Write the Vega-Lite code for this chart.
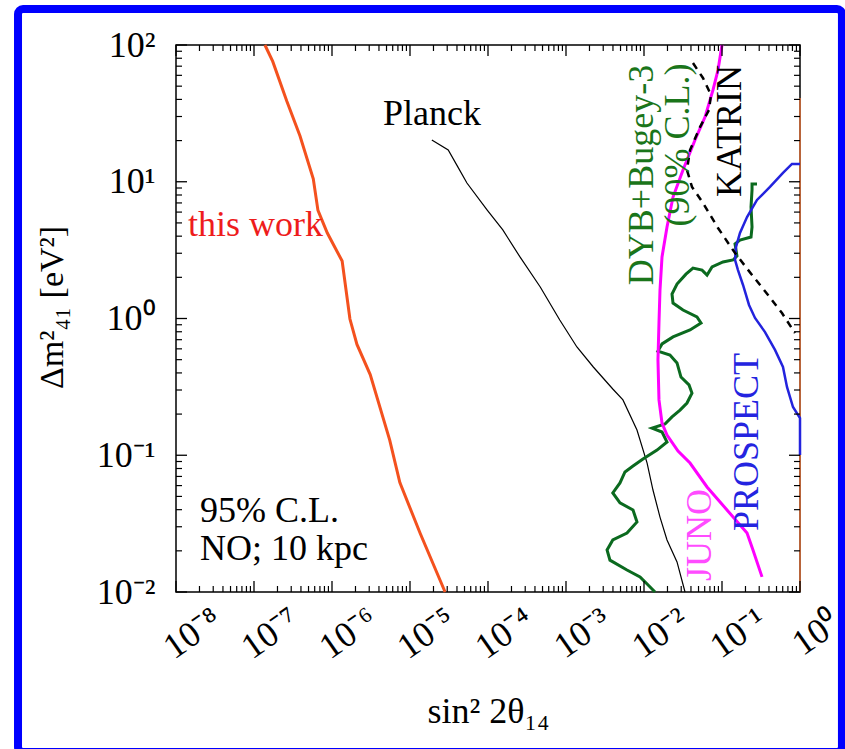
{
  "$schema": "https://vega.github.io/schema/vega-lite/v6.json",
  "width": 624,
  "height": 547,
  "autosize": {"type": "none"},
  "padding": {"left": 176, "top": 45, "right": 45, "bottom": 157},
  "background": "white",
  "datasets": {
    "curves": [
      {"s": "red", "i": 0, "x": 1.38e-7, "y": 100},
      {"s": "red", "i": 1, "x": 1.738e-7, "y": 75.9},
      {"s": "red", "i": 2, "x": 2.63e-7, "y": 38.9},
      {"s": "red", "i": 3, "x": 3.89e-7, "y": 21.6},
      {"s": "red", "i": 4, "x": 5.754e-7, "y": 10.5},
      {"s": "red", "i": 5, "x": 6.607e-7, "y": 6.17},
      {"s": "red", "i": 6, "x": 8.71e-7, "y": 4.22},
      {"s": "red", "i": 7, "x": 1.349e-6, "y": 2.63},
      {"s": "red", "i": 8, "x": 1.698e-6, "y": 0.991},
      {"s": "red", "i": 9, "x": 2.089e-6, "y": 0.646},
      {"s": "red", "i": 10, "x": 3.09e-6, "y": 0.389},
      {"s": "red", "i": 11, "x": 5.495e-6, "y": 0.129},
      {"s": "red", "i": 12, "x": 7.413e-6, "y": 0.0631},
      {"s": "red", "i": 13, "x": 1.349e-5, "y": 0.0269},
      {"s": "red", "i": 14, "x": 2.818e-5, "y": 0.01},

      {"s": "planck", "i": 0, "x": 1.905e-5, "y": 20.2},
      {"s": "planck", "i": 1, "x": 3.09e-5, "y": 17.06},
      {"s": "planck", "i": 2, "x": 4.12e-5, "y": 12.8},
      {"s": "planck", "i": 3, "x": 5.37e-5, "y": 9.79},
      {"s": "planck", "i": 4, "x": 9.772e-5, "y": 6.21},
      {"s": "planck", "i": 5, "x": 1.549e-4, "y": 4.44},
      {"s": "planck", "i": 6, "x": 2.57e-4, "y": 2.82},
      {"s": "planck", "i": 7, "x": 4.677e-4, "y": 1.7},
      {"s": "planck", "i": 8, "x": 8.318e-4, "y": 0.975},
      {"s": "planck", "i": 9, "x": 1.38e-3, "y": 0.619},
      {"s": "planck", "i": 10, "x": 2.239e-3, "y": 0.442},
      {"s": "planck", "i": 11, "x": 3.981e-3, "y": 0.305},
      {"s": "planck", "i": 12, "x": 5.37e-3, "y": 0.254},
      {"s": "planck", "i": 13, "x": 8.128e-3, "y": 0.153},
      {"s": "planck", "i": 14, "x": 1.096e-2, "y": 0.0877},
      {"s": "planck", "i": 15, "x": 1.303e-2, "y": 0.0557},
      {"s": "planck", "i": 16, "x": 1.603e-2, "y": 0.0353},
      {"s": "planck", "i": 17, "x": 1.972e-2, "y": 0.024},
      {"s": "planck", "i": 18, "x": 2.65e-2, "y": 0.0166},
      {"s": "planck", "i": 19, "x": 3.357e-2, "y": 0.01},

      {"s": "juno", "i": 0, "x": 0.1, "y": 100},
      {"s": "juno", "i": 1, "x": 0.0889, "y": 65.6},
      {"s": "juno", "i": 2, "x": 0.0767, "y": 46.9},
      {"s": "juno", "i": 3, "x": 0.06053, "y": 29.7},
      {"s": "juno", "i": 4, "x": 0.04508, "y": 20.2},
      {"s": "juno", "i": 5, "x": 0.03162, "y": 12.2},
      {"s": "juno", "i": 6, "x": 0.02355, "y": 7.73},
      {"s": "juno", "i": 7, "x": 0.01972, "y": 4.67},
      {"s": "juno", "i": 8, "x": 0.01702, "y": 2.82},
      {"s": "juno", "i": 9, "x": 0.01603, "y": 1.61},
      {"s": "juno", "i": 10, "x": 0.01556, "y": 0.927},
      {"s": "juno", "i": 11, "x": 0.0151, "y": 0.498},
      {"s": "juno", "i": 12, "x": 0.01556, "y": 0.254},
      {"s": "juno", "i": 13, "x": 0.01702, "y": 0.172},
      {"s": "juno", "i": 14, "x": 0.01972, "y": 0.1406},
      {"s": "juno", "i": 15, "x": 0.02729, "y": 0.1074},
      {"s": "juno", "i": 16, "x": 0.0389, "y": 0.0877},
      {"s": "juno", "i": 17, "x": 0.06427, "y": 0.0586},
      {"s": "juno", "i": 18, "x": 0.1159, "y": 0.0398},
      {"s": "juno", "i": 19, "x": 0.2094, "y": 0.027},
      {"s": "juno", "i": 20, "x": 0.2495, "y": 0.0203},
      {"s": "juno", "i": 21, "x": 0.3258, "y": 0.0129},

      {"s": "katrin", "i": 0, "x": 0.04246, "y": 73.8},
      {"s": "katrin", "i": 1, "x": 0.05702, "y": 57.4},
      {"s": "katrin", "i": 2, "x": 0.07228, "y": 43.1},
      {"s": "katrin", "i": 3, "x": 0.06808, "y": 33.5},
      {"s": "katrin", "i": 4, "x": 0.05224, "y": 25.1},
      {"s": "katrin", "i": 5, "x": 0.0389, "y": 17.06},
      {"s": "katrin", "i": 6, "x": 0.03556, "y": 12.2},
      {"s": "katrin", "i": 7, "x": 0.04121, "y": 9.16},
      {"s": "katrin", "i": 8, "x": 0.05702, "y": 7.0},
      {"s": "katrin", "i": 9, "x": 0.0889, "y": 4.59},
      {"s": "katrin", "i": 10, "x": 0.1469, "y": 3.01},
      {"s": "katrin", "i": 11, "x": 0.2427, "y": 2.08},
      {"s": "katrin", "i": 12, "x": 0.389, "y": 1.486},
      {"s": "katrin", "i": 13, "x": 0.5875, "y": 1.096},
      {"s": "katrin", "i": 14, "x": 0.863, "y": 0.783},

      {"s": "prospect", "i": 0, "x": 1.0, "y": 13.5},
      {"s": "prospect", "i": 1, "x": 0.789, "y": 13.5},
      {"s": "prospect", "i": 2, "x": 0.605, "y": 11.6},
      {"s": "prospect", "i": 3, "x": 0.412, "y": 9.16},
      {"s": "prospect", "i": 4, "x": 0.281, "y": 7.36},
      {"s": "prospect", "i": 5, "x": 0.2094, "y": 5.52},
      {"s": "prospect", "i": 6, "x": 0.17, "y": 4.22},
      {"s": "prospect", "i": 7, "x": 0.151, "y": 3.33},
      {"s": "prospect", "i": 8, "x": 0.1469, "y": 2.68},
      {"s": "prospect", "i": 9, "x": 0.1603, "y": 2.26},
      {"s": "prospect", "i": 10, "x": 0.186, "y": 1.758},
      {"s": "prospect", "i": 11, "x": 0.222, "y": 1.256},
      {"s": "prospect", "i": 12, "x": 0.265, "y": 1.009},
      {"s": "prospect", "i": 13, "x": 0.356, "y": 0.796},
      {"s": "prospect", "i": 14, "x": 0.478, "y": 0.589},
      {"s": "prospect", "i": 15, "x": 0.605, "y": 0.442},
      {"s": "prospect", "i": 16, "x": 0.681, "y": 0.316},
      {"s": "prospect", "i": 17, "x": 0.813, "y": 0.2254},
      {"s": "prospect", "i": 18, "x": 1.0, "y": 0.187},
      {"s": "prospect", "i": 19, "x": 1.0, "y": 0.1005},

      {"s": "dyb", "i": 0, "x": 0.281, "y": 9.64},
      {"s": "dyb", "i": 1, "x": 0.2427, "y": 9.64},
      {"s": "dyb", "i": 2, "x": 0.2427, "y": 8.71},
      {"s": "dyb", "i": 3, "x": 0.2355, "y": 6.53},
      {"s": "dyb", "i": 4, "x": 0.2427, "y": 4.67},
      {"s": "dyb", "i": 5, "x": 0.2355, "y": 3.94},
      {"s": "dyb", "i": 6, "x": 0.17, "y": 3.75},
      {"s": "dyb", "i": 7, "x": 0.1469, "y": 3.51},
      {"s": "dyb", "i": 8, "x": 0.1556, "y": 2.86},
      {"s": "dyb", "i": 9, "x": 0.1384, "y": 2.68},
      {"s": "dyb", "i": 10, "x": 0.103, "y": 2.59},
      {"s": "dyb", "i": 11, "x": 0.0745, "y": 2.38},
      {"s": "dyb", "i": 12, "x": 0.0643, "y": 2.08},
      {"s": "dyb", "i": 13, "x": 0.0555, "y": 2.26},
      {"s": "dyb", "i": 14, "x": 0.04246, "y": 2.34},
      {"s": "dyb", "i": 15, "x": 0.0345, "y": 2.11},
      {"s": "dyb", "i": 16, "x": 0.0265, "y": 1.786},
      {"s": "dyb", "i": 17, "x": 0.02286, "y": 1.51},
      {"s": "dyb", "i": 18, "x": 0.02355, "y": 1.297},
      {"s": "dyb", "i": 19, "x": 0.03162, "y": 1.153},
      {"s": "dyb", "i": 20, "x": 0.04775, "y": 1.026},
      {"s": "dyb", "i": 21, "x": 0.05383, "y": 0.927},
      {"s": "dyb", "i": 22, "x": 0.0389, "y": 0.824},
      {"s": "dyb", "i": 23, "x": 0.02355, "y": 0.733},
      {"s": "dyb", "i": 24, "x": 0.01702, "y": 0.652},
      {"s": "dyb", "i": 25, "x": 0.0151, "y": 0.578},
      {"s": "dyb", "i": 26, "x": 0.02153, "y": 0.541},
      {"s": "dyb", "i": 27, "x": 0.0265, "y": 0.473},
      {"s": "dyb", "i": 28, "x": 0.02979, "y": 0.373},
      {"s": "dyb", "i": 29, "x": 0.03776, "y": 0.327},
      {"s": "dyb", "i": 30, "x": 0.04121, "y": 0.285},
      {"s": "dyb", "i": 31, "x": 0.03556, "y": 0.241},
      {"s": "dyb", "i": 32, "x": 0.02897, "y": 0.214},
      {"s": "dyb", "i": 33, "x": 0.02286, "y": 0.1905},
      {"s": "dyb", "i": 34, "x": 0.01858, "y": 0.1694},
      {"s": "dyb", "i": 35, "x": 0.01268, "y": 0.1581},
      {"s": "dyb", "i": 36, "x": 0.01702, "y": 0.1479},
      {"s": "dyb", "i": 37, "x": 0.01972, "y": 0.125},
      {"s": "dyb", "i": 38, "x": 0.01469, "y": 0.1091},
      {"s": "dyb", "i": 39, "x": 0.0097, "y": 0.094},
      {"s": "dyb", "i": 40, "x": 0.00723, "y": 0.0834},
      {"s": "dyb", "i": 41, "x": 0.0057, "y": 0.0755},
      {"s": "dyb", "i": 42, "x": 0.00492, "y": 0.0627},
      {"s": "dyb", "i": 43, "x": 0.003981, "y": 0.053},
      {"s": "dyb", "i": 44, "x": 0.00492, "y": 0.0448},
      {"s": "dyb", "i": 45, "x": 0.00723, "y": 0.0398},
      {"s": "dyb", "i": 46, "x": 0.00813, "y": 0.0325},
      {"s": "dyb", "i": 47, "x": 0.00605, "y": 0.027},
      {"s": "dyb", "i": 48, "x": 0.003981, "y": 0.024},
      {"s": "dyb", "i": 49, "x": 0.00336, "y": 0.0203},
      {"s": "dyb", "i": 50, "x": 0.00366, "y": 0.0171},
      {"s": "dyb", "i": 51, "x": 0.00605, "y": 0.01449},
      {"s": "dyb", "i": 52, "x": 0.00889, "y": 0.0129},
      {"s": "dyb", "i": 53, "x": 0.01096, "y": 0.01144},
      {"s": "dyb", "i": 54, "x": 0.01384, "y": 0.01},

      {"s": "edge", "i": 0, "x": 1.0, "y": 40.9},
      {"s": "edge", "i": 1, "x": 1.0, "y": 0.01}
    ],
    "labels": [
      {"t": "this work", "x": 1.426e-8, "y": 4.01},
      {"t": "Planck", "x": 4.508e-6, "y": 26.0},
      {"t": "95% C.L.", "x": 2.03e-8, "y": 0.0325},
      {"t": "NO; 10 kpc", "x": 2.03e-8, "y": 0.0171},
      {"t": "DYB+Bugey-3", "x": 9.42e-3, "y": 11.2},
      {"t": "(90% C.L.)", "x": 0.02729, "y": 18.6},
      {"t": "KATRIN", "x": 0.1268, "y": 23.5},
      {"t": "JUNO", "x": 0.05224, "y": 0.0261},
      {"t": "PROSPECT", "x": 0.2094, "y": 0.125}
    ],
    "xmajor": [{"v": 1e-8}, {"v": 1e-7}, {"v": 1e-6}, {"v": 1e-5}, {"v": 1e-4}, {"v": 1e-3}, {"v": 1e-2}, {"v": 1e-1}, {"v": 1}],
    "xminor": [
      {"v": 2e-8}, {"v": 3e-8}, {"v": 4e-8}, {"v": 5e-8}, {"v": 6e-8}, {"v": 7e-8}, {"v": 8e-8}, {"v": 9e-8},
      {"v": 2e-7}, {"v": 3e-7}, {"v": 4e-7}, {"v": 5e-7}, {"v": 6e-7}, {"v": 7e-7}, {"v": 8e-7}, {"v": 9e-7},
      {"v": 2e-6}, {"v": 3e-6}, {"v": 4e-6}, {"v": 5e-6}, {"v": 6e-6}, {"v": 7e-6}, {"v": 8e-6}, {"v": 9e-6},
      {"v": 2e-5}, {"v": 3e-5}, {"v": 4e-5}, {"v": 5e-5}, {"v": 6e-5}, {"v": 7e-5}, {"v": 8e-5}, {"v": 9e-5},
      {"v": 2e-4}, {"v": 3e-4}, {"v": 4e-4}, {"v": 5e-4}, {"v": 6e-4}, {"v": 7e-4}, {"v": 8e-4}, {"v": 9e-4},
      {"v": 2e-3}, {"v": 3e-3}, {"v": 4e-3}, {"v": 5e-3}, {"v": 6e-3}, {"v": 7e-3}, {"v": 8e-3}, {"v": 9e-3},
      {"v": 2e-2}, {"v": 3e-2}, {"v": 4e-2}, {"v": 5e-2}, {"v": 6e-2}, {"v": 7e-2}, {"v": 8e-2}, {"v": 9e-2},
      {"v": 0.2}, {"v": 0.3}, {"v": 0.4}, {"v": 0.5}, {"v": 0.6}, {"v": 0.7}, {"v": 0.8}, {"v": 0.9}
    ],
    "ymajor": [{"v": 0.01}, {"v": 0.1}, {"v": 1}, {"v": 10}, {"v": 100}],
    "yminor": [
      {"v": 0.02}, {"v": 0.03}, {"v": 0.04}, {"v": 0.05}, {"v": 0.06}, {"v": 0.07}, {"v": 0.08}, {"v": 0.09},
      {"v": 0.2}, {"v": 0.3}, {"v": 0.4}, {"v": 0.5}, {"v": 0.6}, {"v": 0.7}, {"v": 0.8}, {"v": 0.9},
      {"v": 2}, {"v": 3}, {"v": 4}, {"v": 5}, {"v": 6}, {"v": 7}, {"v": 8}, {"v": 9},
      {"v": 20}, {"v": 30}, {"v": 40}, {"v": 50}, {"v": 60}, {"v": 70}, {"v": 80}, {"v": 90}
    ]
  },
  "data": {"name": "curves"},
  "resolve": {"axis": {"x": "independent", "y": "independent"}},
  "layer": [
    {
      "data": {"values": [{}]},
      "mark": {"type": "rect", "fill": "transparent", "stroke": "#0000ff", "strokeWidth": 8, "cornerRadius": 5},
      "encoding": {
        "x": {"datum": 9.43e-11, "type": "quantitative", "scale": {"type": "log", "domain": [1e-8, 1], "nice": false}, "axis": null},
        "x2": {"datum": 3.45},
        "y": {"datum": 183.2, "type": "quantitative", "scale": {"type": "log", "domain": [0.01, 100], "nice": false}, "axis": null},
        "y2": {"datum": 6.76e-4}
      }
    },
    {
      "transform": [{"filter": "datum.s === 'edge'"}],
      "mark": {"type": "line", "color": "#b8643a", "strokeWidth": 2},
      "encoding": {
        "x": {"field": "x", "type": "quantitative", "axis": null},
        "y": {"field": "y", "type": "quantitative", "axis": null},
        "order": {"field": "i"}
      }
    },
    {
      "transform": [{"filter": "datum.s === 'red'"}],
      "mark": {"type": "line", "color": "#f4511e", "strokeWidth": 3},
      "encoding": {
        "x": {"field": "x", "type": "quantitative", "scale": {"type": "log", "domain": [1e-8, 1], "nice": false},
          "axis": {"orient": "bottom", "values": [1e-8, 1e-7, 1e-6, 1e-5, 1e-4, 1e-3, 1e-2, 1e-1, 1],
            "ticks": false, "labelExpr": "['10⁻⁸','10⁻⁷','10⁻⁶','10⁻⁵','10⁻⁴','10⁻³','10⁻²','10⁻¹','10⁰'][round(log(datum.value)/LN10)+8]",
            "labelAngle": -35, "labelAlign": "center", "labelBaseline": "middle", "labelPadding": 41, "labelOffset": 16,
            "labelFontSize": 36, "labelFlush": false, "labelOverlap": false, "labelBound": false,
            "title": "sin² 2θ₁₄", "titleFontSize": 36, "titleY": 130, "titleBaseline": "alphabetic"}},
        "y": {"field": "y", "type": "quantitative", "scale": {"type": "log", "domain": [0.01, 100], "nice": false},
          "axis": {"orient": "left", "values": [0.01, 0.1, 1, 10, 100],
            "ticks": false, "labelExpr": "['10⁻²','10⁻¹','10⁰','10¹','10²'][round(log(datum.value)/LN10)+2]",
            "labelPadding": 21, "labelBaseline": "middle", "labelFontSize": 36, "labelFlush": false, "labelOverlap": false, "labelBound": false,
            "title": "Δm²₄₁ [eV²]", "titleFontSize": 34, "titleAngle": 270, "titleX": -124, "titleY": 262, "titleBaseline": "middle", "titleAlign": "center"}},
        "order": {"field": "i"}
      }
    },
    {
      "transform": [{"filter": "datum.s === 'planck'"}],
      "mark": {"type": "line", "color": "black", "strokeWidth": 1.2},
      "encoding": {
        "x": {"field": "x", "type": "quantitative", "axis": null},
        "y": {"field": "y", "type": "quantitative", "axis": null},
        "order": {"field": "i"}
      }
    },
    {
      "transform": [{"filter": "datum.s === 'dyb'"}],
      "mark": {"type": "line", "color": "#0b6a1f", "strokeWidth": 3},
      "encoding": {
        "x": {"field": "x", "type": "quantitative", "axis": null},
        "y": {"field": "y", "type": "quantitative", "axis": null},
        "order": {"field": "i"}
      }
    },
    {
      "transform": [{"filter": "datum.s === 'juno'"}],
      "mark": {"type": "line", "color": "#ff00ff", "strokeWidth": 3},
      "encoding": {
        "x": {"field": "x", "type": "quantitative", "axis": null},
        "y": {"field": "y", "type": "quantitative", "axis": null},
        "order": {"field": "i"}
      }
    },
    {
      "transform": [{"filter": "datum.s === 'prospect'"}],
      "mark": {"type": "line", "color": "#2323dd", "strokeWidth": 2.5},
      "encoding": {
        "x": {"field": "x", "type": "quantitative", "axis": null},
        "y": {"field": "y", "type": "quantitative", "axis": null},
        "order": {"field": "i"}
      }
    },
    {
      "transform": [{"filter": "datum.s === 'katrin'"}],
      "mark": {"type": "line", "color": "black", "strokeWidth": 2.5, "strokeDash": [7, 6]},
      "encoding": {
        "x": {"field": "x", "type": "quantitative", "axis": null},
        "y": {"field": "y", "type": "quantitative", "axis": null},
        "order": {"field": "i"}
      }
    },
    {
      "data": {"name": "labels"},
      "transform": [{"filter": "indexof(['this work','Planck','95% C.L.','NO; 10 kpc'], datum.t) >= 0"}],
      "mark": {"type": "text", "align": "left", "baseline": "alphabetic", "font": "Liberation Serif", "fontSize": 36},
      "encoding": {
        "x": {"field": "x", "type": "quantitative", "axis": null},
        "y": {"field": "y", "type": "quantitative", "axis": null},
        "text": {"field": "t"},
        "color": {"field": "t", "type": "nominal", "legend": null,
          "scale": {"domain": ["this work", "Planck", "95% C.L.", "NO; 10 kpc", "DYB+Bugey-3", "(90% C.L.)", "KATRIN", "JUNO", "PROSPECT"],
            "range": ["#ee1c1c", "black", "black", "black", "#1a751a", "#1a751a", "black", "#ff4cff", "#2424e0"]}}
      }
    },
    {
      "data": {"name": "labels"},
      "transform": [{"filter": "indexof(['DYB+Bugey-3','(90% C.L.)','KATRIN','JUNO','PROSPECT'], datum.t) >= 0"}],
      "mark": {"type": "text", "align": "center", "baseline": "middle", "angle": 270, "font": "Liberation Serif", "fontSize": 36},
      "encoding": {
        "x": {"field": "x", "type": "quantitative", "axis": null},
        "y": {"field": "y", "type": "quantitative", "axis": null},
        "text": {"field": "t"},
        "color": {"field": "t", "type": "nominal", "legend": null}
      }
    },
    {
      "data": {"name": "xmajor"},
      "mark": {"type": "tick", "orient": "vertical", "size": 11, "thickness": 1.3, "color": "black", "opacity": 1, "yOffset": -5.5},
      "encoding": {
        "x": {"field": "v", "type": "quantitative", "axis": null},
        "y": {"datum": 0.01, "type": "quantitative", "axis": null}
      }
    },
    {
      "data": {"name": "xmajor"},
      "mark": {"type": "tick", "orient": "vertical", "size": 11, "thickness": 1.3, "color": "black", "opacity": 1, "yOffset": 5.5},
      "encoding": {
        "x": {"field": "v", "type": "quantitative", "axis": null},
        "y": {"datum": 100, "type": "quantitative", "axis": null}
      }
    },
    {
      "data": {"name": "xminor"},
      "mark": {"type": "tick", "orient": "vertical", "size": 6, "thickness": 1.2, "color": "black", "opacity": 1, "yOffset": -3},
      "encoding": {
        "x": {"field": "v", "type": "quantitative", "axis": null},
        "y": {"datum": 0.01, "type": "quantitative", "axis": null}
      }
    },
    {
      "data": {"name": "xminor"},
      "mark": {"type": "tick", "orient": "vertical", "size": 6, "thickness": 1.2, "color": "black", "opacity": 1, "yOffset": 3},
      "encoding": {
        "x": {"field": "v", "type": "quantitative", "axis": null},
        "y": {"datum": 100, "type": "quantitative", "axis": null}
      }
    },
    {
      "data": {"name": "ymajor"},
      "mark": {"type": "tick", "orient": "horizontal", "size": 11, "thickness": 1.3, "color": "black", "opacity": 1, "xOffset": 5.5},
      "encoding": {
        "y": {"field": "v", "type": "quantitative", "axis": null},
        "x": {"datum": 1e-8, "type": "quantitative", "axis": null}
      }
    },
    {
      "data": {"name": "ymajor"},
      "mark": {"type": "tick", "orient": "horizontal", "size": 11, "thickness": 1.3, "color": "black", "opacity": 1, "xOffset": -5.5},
      "encoding": {
        "y": {"field": "v", "type": "quantitative", "axis": null},
        "x": {"datum": 1, "type": "quantitative", "axis": null}
      }
    },
    {
      "data": {"name": "yminor"},
      "mark": {"type": "tick", "orient": "horizontal", "size": 6, "thickness": 1.2, "color": "black", "opacity": 1, "xOffset": 3},
      "encoding": {
        "y": {"field": "v", "type": "quantitative", "axis": null},
        "x": {"datum": 1e-8, "type": "quantitative", "axis": null}
      }
    },
    {
      "data": {"name": "yminor"},
      "mark": {"type": "tick", "orient": "horizontal", "size": 6, "thickness": 1.2, "color": "black", "opacity": 1, "xOffset": -3},
      "encoding": {
        "y": {"field": "v", "type": "quantitative", "axis": null},
        "x": {"datum": 1, "type": "quantitative", "axis": null}
      }
    }
  ],
  "config": {
    "view": {"stroke": "black", "strokeWidth": 1.5},
    "axis": {"grid": false, "domain": false,
      "labelColor": "black", "labelFont": "Liberation Serif", "titleFont": "Liberation Serif",
      "titleColor": "black", "titleFontWeight": "normal"},
    "text": {"font": "Liberation Serif"}
  }
}
